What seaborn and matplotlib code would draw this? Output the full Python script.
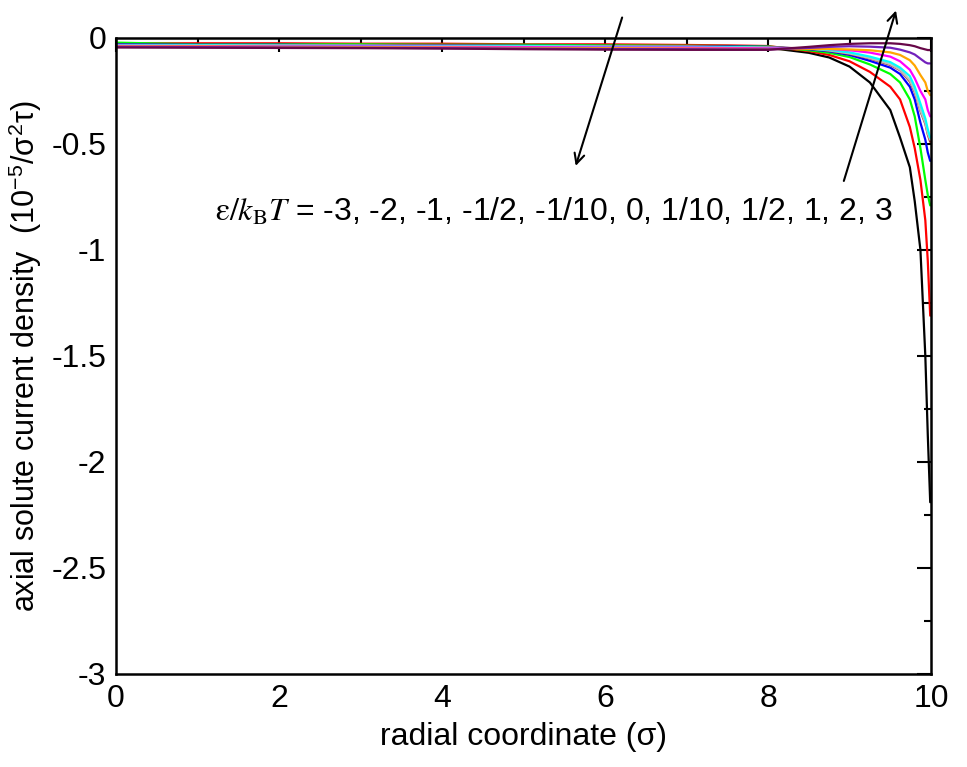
import numpy as np
import pandas as pd
import matplotlib
matplotlib.use("Agg")
import matplotlib.pyplot as plt
import seaborn as sns

# ---- data ----
r = [0, 1, 2, 3, 4, 5, 6, 7, 7.5, 8, 8.5, 8.75, 9, 9.25, 9.5, 9.62, 9.74, 9.8, 9.87, 9.93, 9.96, 9.99]

eps_labels = ["-3", "-2", "-1", "-1/2", "-1/10", "0", "1/10", "1/2", "1", "2", "3"]

j_black = [-0.03, -0.03, -0.03, -0.03, -0.035, -0.035, -0.04, -0.04, -0.042, -0.046, -0.07, -0.092, -0.135, -0.21, -0.34, -0.47, -0.61, -0.77, -1.0, -1.5, -1.87, -2.19]
j_red = [-0.025, -0.025, -0.025, -0.027, -0.027, -0.03, -0.03, -0.033, -0.035, -0.038, -0.062, -0.08, -0.11, -0.16, -0.23, -0.29, -0.42, -0.52, -0.67, -0.86, -1.05, -1.31]
j_green = [-0.022, -0.03, -0.03, -0.03, -0.032, -0.032, -0.035, -0.037, -0.038, -0.04, -0.058, -0.07, -0.09, -0.125, -0.17, -0.21, -0.29, -0.37, -0.52, -0.67, -0.74, -0.79]
j_blue = [-0.03, -0.032, -0.032, -0.035, -0.035, -0.037, -0.038, -0.04, -0.04, -0.042, -0.053, -0.063, -0.08, -0.108, -0.14, -0.17, -0.23, -0.29, -0.40, -0.48, -0.54, -0.58]
j_brown = [-0.033, -0.033, -0.035, -0.035, -0.037, -0.038, -0.04, -0.04, -0.042, -0.044, -0.05, -0.06, -0.075, -0.097, -0.127, -0.152, -0.205, -0.255, -0.345, -0.405, -0.455, -0.49]
j_grey = [-0.033, -0.034, -0.035, -0.036, -0.037, -0.038, -0.04, -0.041, -0.043, -0.045, -0.05, -0.059, -0.073, -0.095, -0.124, -0.15, -0.2, -0.25, -0.34, -0.40, -0.45, -0.48]
j_cyan = [-0.035, -0.035, -0.037, -0.037, -0.04, -0.04, -0.042, -0.042, -0.044, -0.047, -0.05, -0.056, -0.068, -0.088, -0.114, -0.14, -0.18, -0.23, -0.31, -0.38, -0.43, -0.47]
j_magenta = [-0.037, -0.038, -0.04, -0.04, -0.042, -0.043, -0.045, -0.045, -0.047, -0.049, -0.05, -0.052, -0.058, -0.069, -0.088, -0.11, -0.15, -0.19, -0.25, -0.29, -0.34, -0.37]
j_orange = [-0.04, -0.04, -0.042, -0.043, -0.045, -0.047, -0.048, -0.05, -0.051, -0.052, -0.052, -0.052, -0.054, -0.058, -0.068, -0.08, -0.105, -0.13, -0.175, -0.21, -0.25, -0.27]
j_indigo = [-0.042, -0.043, -0.045, -0.046, -0.048, -0.05, -0.052, -0.053, -0.054, -0.054, -0.047, -0.042, -0.039, -0.041, -0.046, -0.055, -0.068, -0.078, -0.098, -0.115, -0.12, -0.12]
j_maroon = [-0.045, -0.046, -0.047, -0.048, -0.05, -0.053, -0.055, -0.056, -0.056, -0.056, -0.042, -0.034, -0.028, -0.025, -0.025, -0.028, -0.034, -0.039, -0.048, -0.054, -0.057, -0.057]

series = [j_black, j_red, j_green, j_blue, j_brown, j_grey, j_cyan, j_magenta, j_orange, j_indigo, j_maroon]
colors = ["#000000", "#ff0000", "#00ff00", "#0000ff", "#a52a2a", "#bebebe",
          "#00ffff", "#ff00ff", "#ffa500", "#7221bc", "#670748"]

xticks = [0, 2, 4, 6, 8, 10]
xticklabels = ["0", "2", "4", "6", "8", "10"]
yticks = [-3, -2.5, -2, -1.5, -1, -0.5, 0]
yticklabels = ["-3", "-2.5", "-2", "-1.5", "-1", "-0.5", "0"]

rows = []
for lab, ys in zip(eps_labels, series):
    for xv, yv in zip(r, ys):
        rows.append({"r": xv, "j": yv, "eps": lab})
df = pd.DataFrame(rows)

# ---- style ----
sns.set_theme(style="white")
plt.rcParams["font.family"] = ["Liberation Sans", "DejaVu Sans"]
plt.rcParams["axes.unicode_minus"] = False
plt.rcParams["mathtext.fontset"] = "stix"
for k in ["text.color", "axes.labelcolor", "xtick.color", "ytick.color", "axes.edgecolor"]:
    plt.rcParams[k] = "black"

fig = plt.figure(figsize=(9.67, 7.67), dpi=100)
ax = fig.add_axes([0.12, 0.1213, 0.8428, 0.8292])

sns.lineplot(data=df, x="r", y="j", hue="eps", hue_order=eps_labels,
             palette=colors, legend=False, linewidth=1.6, ax=ax, sort=True)

ax.set_xlim(0, 10)
ax.set_ylim(-3, 0)
ax.set_xticks(xticks)
ax.set_xticklabels(xticklabels)
ax.set_yticks(yticks)
ax.set_yticklabels(yticklabels)
ax.set_xticks(np.arange(1, 10, 2), minor=True)
ax.set_yticks(np.arange(-2.75, 0, 0.5), minor=True)

for s in ax.spines.values():
    s.set_linewidth(1.8)
    s.set_color("black")
ax.tick_params(which="both", direction="in", top=True, right=True,
               color="black", labelcolor="black", width=1.5, labelsize=23, pad=7)
ax.tick_params(which="major", length=10)
ax.tick_params(which="minor", length=5)

ax.set_xlabel("radial coordinate (σ)", fontsize=23, labelpad=6)
ax.set_ylabel("axial solute current density  (10$^{\\mathregular{-5}}$/σ$^{\\mathregular{2}}$τ)",
              fontsize=22, labelpad=5)

ax.text(1.21, -0.82, r"$\mathrm{\varepsilon}/k_{\mathrm{B}}T$" + " = -3, -2, -1, -1/2, -1/10, 0, 1/10, 1/2, 1, 2, 3",
        fontsize=23, va="center", ha="left")

ax.annotate("", xy=(5.63, -0.616), xytext=(6.22, 0.109),
            arrowprops=dict(arrowstyle="->", color="black", lw=1.5, mutation_scale=18),
            annotation_clip=False)
ax.annotate("", xy=(9.58, 0.142), xytext=(8.92, -0.687),
            arrowprops=dict(arrowstyle="->", color="black", lw=1.5, mutation_scale=18),
            annotation_clip=False)

fig.savefig("out.png", dpi=100)
